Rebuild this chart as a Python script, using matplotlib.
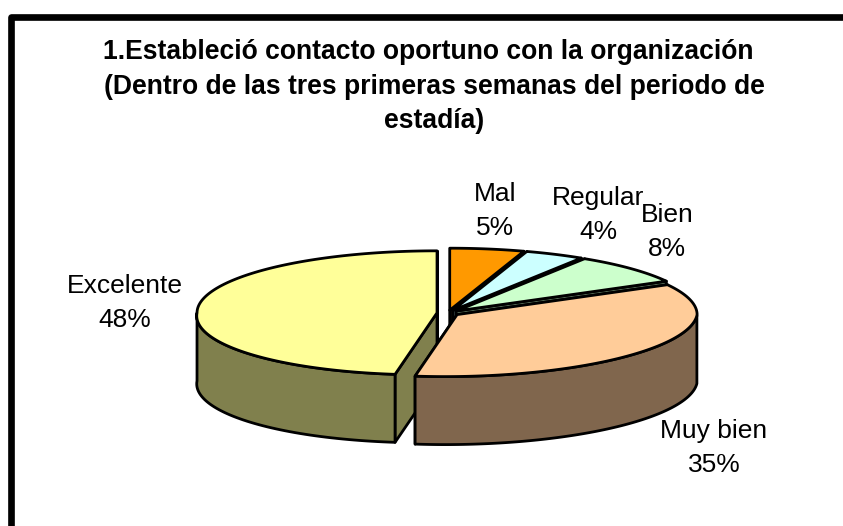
import numpy as np
import matplotlib
matplotlib.use("Agg")
from matplotlib import pyplot as plt  # noqa
from matplotlib.colors import to_rgb

plt.rcParams['font.family'] = ['Liberation Sans', 'DejaVu Sans']

# chart data
categories = ['Mal', 'Regular', 'Bien', 'Muy bien', 'Excelente']
values = [5, 4, 8, 35, 48]
colors = ['#FF9900', '#CCFFFF', '#CCFFCC', '#FFCC99', '#FFFF99']
title_lines = ['1.Estableció contacto oportuno con la organización',
               '(Dentro de las tres primeras semanas del periodo de',
               'estadía)']

# where the texts sit
label_pos = [(495, 211), (598, 215), (667, 232), (714, 448), (125, 303)]
title_pos = [(428, 52), (434, 87), (434, 121)]

# pie shape in pixels
cx, cy = 448, 313
rx, ry = 240, 62
depth = 68
explode = 11
front_lean = 12
draw_order = [0, 1, 2, 4, 3]  # back to front


def project(t, r=1.0):
    """clockwise angle from the top (radians) -> offset of a point on the top ellipse"""
    lean = front_lean * np.clip(-np.cos(t), 0, None)
    return r * (rx * np.sin(t) - lean), -r * ry * np.cos(t)


fig = plt.figure(figsize=(8.43, 5.26), dpi=100)
ax = fig.add_axes([0, 0, 1, 1])
ax.set_xlim(0, 843)
ax.set_ylim(526, 0)
ax.axis('off')

# frame, only the top and left sides are in the picture
ax.plot([10.5, 10.5, 843], [526, 17, 17], color='black', lw=4.8, solid_joinstyle='round')

edges = np.cumsum([0] + values) / sum(values) * 2 * np.pi

for i in draw_order:
    t0, t1 = edges[i], edges[i + 1]
    mid = (t0 + t1) / 2
    ox = cx + explode * np.sin(mid)
    oy = cy - explode * np.cos(mid) * ry / rx
    ts = np.linspace(t0, t1, 120)
    px, py = project(ts)
    px, py = ox + px, oy + py
    side = tuple(c * 0.5 for c in to_rgb(colors[i]))
    style = dict(edgecolor='black', linewidth=2.0, joinstyle='round')

    # cut faces
    for j in (0, -1):
        ax.fill([ox, px[j], px[j], ox], [oy, py[j], py[j] + depth, oy + depth],
                facecolor=side, **style)

    # outer wall, only the part facing the viewer
    front = np.cos(ts) <= 0
    if front.any():
        wx, wy = px[front], py[front]
        ax.fill(np.r_[wx, wx[::-1]], np.r_[wy, wy[::-1] + depth], facecolor=side, **style)

    # top
    ax.fill(np.r_[ox, px], np.r_[oy, py], facecolor=colors[i], **style)

for name, val, (lx, ly) in zip(categories, values, label_pos):
    ax.text(lx, ly, f'{name}\n{val}%', ha='center', va='center', fontsize=19,
            linespacing=1.5, color='black')

for line, (tx, ty) in zip(title_lines, title_pos):
    ax.text(tx, ty, line, ha='center', va='center', fontsize=19.1, fontweight='bold', color='black')

fig.savefig('out.png', dpi=100)
